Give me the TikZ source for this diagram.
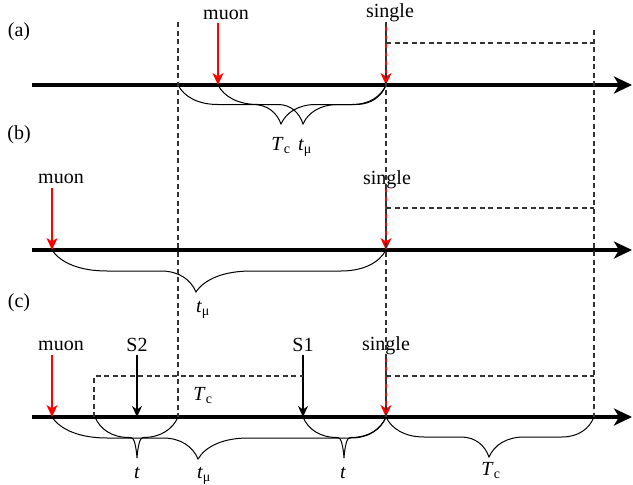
\documentclass[tikz,border=0pt]{standalone}
\usepackage{fontspec}
\setmainfont{Liberation Serif}
\usetikzlibrary{arrows.meta}
% #1 x1, #2 xt, #3 x2, #4 y0, #5 depth, #6 left outer, #7 left inner, #8 right inner, #9 right outer
\newcommand\curlyb[9]{%
 \draw[brc] (#1,#4)
  .. controls ({#1+0.15*#6},{#4+0.3*#5}) and ({#1+0.5*#6},{#4+0.5*#5}) .. ({#1+#6},{#4+0.5*#5})
  -- ({#2-#7},{#4+0.5*#5})
  .. controls ({#2-0.5*#7},{#4+0.5*#5}) and ({#2-0.15*#7},{#4+0.7*#5}) .. (#2,{#4+#5})
  .. controls ({#2+0.15*#8},{#4+0.7*#5}) and ({#2+0.5*#8},{#4+0.5*#5}) .. ({#2+#8},{#4+0.5*#5})
  -- ({#3-#9},{#4+0.5*#5})
  .. controls ({#3-0.5*#9},{#4+0.5*#5}) and ({#3-0.15*#9},{#4+0.3*#5}) .. (#3,#4);}
\begin{document}
\begin{tikzpicture}[x=1pt,y=-1pt,
  lbl/.style={font=\fontsize{20}{24}\selectfont, inner sep=0pt, anchor=base},
  axisln/.style={line width=4pt, -{Stealth[length=18pt,width=17pt,inset=5pt]}},
  redarr/.style={red, line width=1.2pt, -{Stealth[length=12pt,width=11pt,inset=3.5pt]}},
  blkarr/.style={black, line width=1.2pt, -{Stealth[length=11pt,width=10pt,inset=3.5pt]}},
  dsh/.style={black!80, line width=1.2pt, dash pattern=on 5pt off 3.5pt},
  brc/.style={line width=1pt}]
\useasboundingbox (0,0) rectangle (633,485);
% axes
\coordinate (a0) at (32,85);  \coordinate (a1) at (632,85);
\coordinate (b0) at (32,250); \coordinate (b1) at (632,250);
\coordinate (c0) at (32,417); \coordinate (c1) at (632,417);
\draw[axisln] (a0) -- (a1);
\draw[axisln] (b0) -- (b1);
\draw[axisln] (c0) -- (c1);
% panel labels
\node[lbl, anchor=center] (pa) at (19,32) {(a)};
\node[lbl, anchor=center] (pb) at (19,135) {(b)};
\node[lbl, anchor=center] (pc) at (19,303) {(c)};
% braces (a)
\curlyb{178}{281}{386}{85}{39}{40}{28}{35}{34}
\curlyb{218}{303}{386}{85}{39}{40}{25}{35}{30}
% braces (b)
\curlyb{52}{196}{386}{250}{42}{55}{35}{55}{45}
% braces (c)
\curlyb{52}{198}{386}{417}{42}{55}{35}{50}{35}
\curlyb{95}{137}{178}{417}{41}{34}{6}{6}{35}
\curlyb{303}{344}{386}{417}{41}{34}{6}{6}{35}
\curlyb{386}{489}{594}{417}{40}{38}{28}{35}{32}
% arrows (a)
\coordinate (amT) at (218,23);  \coordinate (amB) at (218,85);
\coordinate (asT) at (386,23);  \coordinate (asB) at (386,85);
\draw[redarr] (amT) -- (amB);
\draw[redarr] (asT) -- (asB);
% arrows (b)
\coordinate (bmT) at (52,188);  \coordinate (bmB) at (52,250);
\coordinate (bsT) at (386,188); \coordinate (bsB) at (386,250);
\draw[redarr] (bmT) -- (bmB);
\draw[redarr] (bsT) -- (bsB);
% arrows (c)
\coordinate (cmT) at (52,355);  \coordinate (cmB) at (52,417);
\coordinate (csT) at (386,355); \coordinate (csB) at (386,417);
\coordinate (s2T) at (137,355); \coordinate (s2B) at (137,417);
\coordinate (s1T) at (303,355); \coordinate (s1B) at (303,417);
\draw[redarr] (cmT) -- (cmB);
\draw[redarr] (csT) -- (csB);
\draw[blkarr] (s2T) -- (s2B);
\draw[blkarr] (s1T) -- (s1B);
% text labels
\node[lbl] (amL) at (226,19) {muon};
\node[lbl] (asL) at (390,17) {single};
\node[lbl] (aTc) at (281,150) {\textit{T}\textsubscript{c}};
\node[lbl] (atm) at (305,150) {\textit{t}\textsubscript{μ}};
\node[lbl] (bmL) at (61,183) {muon};
\node[lbl] (bsL) at (387,184) {single};
\node[lbl] (btm) at (203,312) {\textit{t}\textsubscript{μ}};
\node[lbl] (cmL) at (61,350) {muon};
\node[lbl] (s2L) at (137,351) {S2};
\node[lbl] (s1L) at (303,351) {S1};
\node[lbl] (csL) at (386,350) {single};
\node[lbl] (cTc1) at (203,400) {\textit{T}\textsubscript{c}};
\node[lbl] (ct1) at (137,478) {\textit{t}};
\node[lbl] (ctm) at (204,478) {\textit{t}\textsubscript{μ}};
\node[lbl] (ct2) at (343,478) {\textit{t}};
\node[lbl] (cTc2) at (491,475) {\textit{T}\textsubscript{c}};
% dashed guides
\coordinate (v1t) at (178,22); \coordinate (v1b) at (178,417);
\coordinate (v2t) at (386,22); \coordinate (v2b) at (386,417);
\coordinate (v3t) at (594,30); \coordinate (v3b) at (594,417);
\draw[dsh] (v1t) -- (v1b);
\draw[dsh] (v2t) -- (v2b);
\draw[dsh] (v3t) -- (v3b);
\coordinate (ha0) at (386,43);  \coordinate (ha1) at (594,43);
\coordinate (hb0) at (386,208); \coordinate (hb1) at (594,208);
\coordinate (hc0) at (386,376); \coordinate (hc1) at (594,376);
\draw[dsh] (ha0) -- (ha1);
\draw[dsh] (hb0) -- (hb1);
\draw[dsh] (hc0) -- (hc1);
\coordinate (ld0) at (94,417); \coordinate (ld1) at (94,376); \coordinate (ld2) at (303,376);
\draw[dsh] (ld0) -- (ld1) -- (ld2);
\end{tikzpicture}
\end{document}
